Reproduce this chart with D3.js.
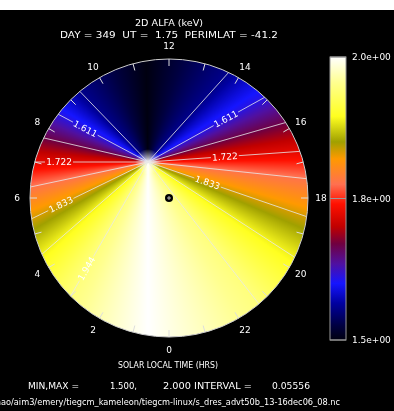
<!DOCTYPE html>
<html>
<head>
<meta charset="utf-8">
<script src="https://cdn.jsdelivr.net/npm/d3@7"></script>
<style>
  body { margin: 0; background: #000; }
  #chart { position: relative; width: 394px; height: 411px; }
  #chart canvas, #chart svg { position: absolute; left: 0; top: 0; display: block; }
  text { font-family: "DejaVu Sans", sans-serif; fill: #fff; white-space: pre; }
</style>
</head>
<body>
<div id="chart"></div>
<script>
// value of the field against direction around the pole (deg, counter-clockwise from +x)
var fieldAngles = [-90, -52, -33, -19, -6, 4, 16, 29, 48, 91, 134, 152, 167, 180, 192, 206, 221, 240, 270];
var fieldValues = [2.0, 1.944, 1.889, 1.833, 1.778, 1.722, 1.667, 1.611, 1.556, 1.5, 1.556, 1.611, 1.667, 1.722, 1.778, 1.833, 1.889, 1.944, 2.0];

var contourLevels = [1.556, 1.611, 1.667, 1.722, 1.778, 1.833, 1.889, 1.944];

// labelled contours: ray angle, distance of label from pole, text
var labelAngles = [152, 180, 206, 240, 29, 4, -19];
var labelDist = [71, 89, 97, 123, 89, 77, 63];
var labelText = ["1.611", "1.722", "1.833", "1.944", "1.611", "1.722", "1.833"];

var hourTicks = d3.range(0, 24);
var hourLabels = [0, 2, 4, 6, 8, 10, 12, 14, 16, 18, 20, 22];

// colour table
var colorValues = [1.5, 1.525, 1.565, 1.60, 1.635, 1.67, 1.70, 1.74, 1.775, 1.82, 1.85, 1.895, 1.955, 2.0];
var colorStops = ["#000010", "#000040", "#0000a0", "#1515ff", "#5010a0", "#700040", "#c00000",
                  "#ff1000", "#ff7050", "#ff9900", "#a0a000", "#ffff20", "#ffff90", "#ffffff"];

var barTicks = [1.5, 1.75, 2.0];
var barTickLabels = ["1.5e+00", "1.8e+00", "2.0e+00"];

var W = 394, H = 411;
var cx = 169, cy = 198, R = 139;       // dial
var px = 148, py = 162;                // pole where contours meet
var rad = Math.PI / 180;

var field = d3.scaleLinear().domain(fieldAngles).range(fieldValues);
var color = d3.scaleLinear().domain(colorValues).range(colorStops).clamp(true);

// filled field on a canvas below the svg
var canvas = d3.select("#chart").append("canvas")
    .attr("width", W).attr("height", H);
var ctx = canvas.node().getContext("2d");

var off = document.createElement("canvas");
off.width = W; off.height = H;
var octx = off.getContext("2d");
var img = octx.createImageData(W, H);
for (var y = cy - R - 1; y <= cy + R + 1; y++) {
  for (var x = cx - R - 1; x <= cx + R + 1; x++) {
    var a = Math.atan2(-(y + 0.5 - py), x + 0.5 - px) / rad;
    if (a < -90) a += 360;
    var c = d3.rgb(color(field(a)));
    var o = (y * W + x) * 4;
    img.data[o] = c.r; img.data[o + 1] = c.g; img.data[o + 2] = c.b; img.data[o + 3] = 255;
  }
}
octx.putImageData(img, 0, 0);
ctx.save();
ctx.beginPath();
ctx.arc(cx, cy, R, 0, 2 * Math.PI);
ctx.clip();
ctx.drawImage(off, 0, 0);
ctx.restore();

var svg = d3.select("#chart").append("svg")
    .attr("width", W)
    .attr("height", H);

svg.append("rect").attr("width", W).attr("height", 10).attr("fill", "#fff");

var defs = svg.append("defs");

var glow = defs.append("radialGradient").attr("id", "glow");
glow.append("stop").attr("offset", 0).attr("stop-color", "#fff").attr("stop-opacity", 1);
glow.append("stop").attr("offset", 0.35).attr("stop-color", "#fff").attr("stop-opacity", 0.6);
glow.append("stop").attr("offset", 1).attr("stop-color", "#fff").attr("stop-opacity", 0);

svg.append("circle")
    .attr("cx", px).attr("cy", py).attr("r", 13)
    .attr("fill", "url(#glow)");

// distance from pole to dial edge along a ray
function edgeDist(a) {
  var dx = Math.cos(a * rad), dy = -Math.sin(a * rad);
  var ox = px - cx, oy = py - cy;
  var b = dx * ox + dy * oy, c = ox * ox + oy * oy - R * R;
  return -b + Math.sqrt(b * b - c);
}

// contour rays
var rays = [];
fieldValues.forEach(function(v, i) {
  contourLevels.forEach(function(l) {
    if (Math.abs(v - l) < 0.002) rays.push(fieldAngles[i]);
  });
});

var cg = svg.append("g");
rays.forEach(function(a) {
  var len = edgeDist(a);
  var dx = Math.cos(a * rad), dy = -Math.sin(a * rad);
  var segs = [[0, len]];
  var k = labelAngles.indexOf(a);
  if (k >= 0) segs = [[0, labelDist[k] - 14], [labelDist[k] + 14, len]];
  segs.forEach(function(s) {
    cg.append("line")
      .attr("x1", px + dx * s[0]).attr("y1", py + dy * s[0])
      .attr("x2", px + dx * s[1]).attr("y2", py + dy * s[1])
      .attr("stroke", "#e8e8e8")
      .attr("stroke-width", 0.8);
  });
});

cg.selectAll(".clab")
    .data(labelText)
  .enter().append("text")
    .attr("class", "clab")
    .attr("transform", function(d, i) {
      var a = labelAngles[i];
      var x = px + Math.cos(a * rad) * labelDist[i];
      var y = py - Math.sin(a * rad) * labelDist[i];
      var phi = -a;
      while (phi > 90) phi -= 180;
      while (phi <= -90) phi += 180;
      return "translate(" + x + "," + y + ") rotate(" + phi + ")";
    })
    .attr("text-anchor", "middle")
    .attr("dy", "0.35em")
    .style("font-size", "9px")
    .style("fill", "#fff")
    .text(function(d) { return d; });

// dial outline, hour ticks and labels
var hourAngle = d3.scaleLinear().domain([0, 24]).range([0, 2 * Math.PI]);

svg.append("circle")
    .attr("cx", cx).attr("cy", cy).attr("r", R)
    .attr("fill", "none")
    .attr("stroke", "#ccc")
    .attr("stroke-width", 1);

svg.selectAll(".htick")
    .data(hourTicks)
  .enter().append("line")
    .attr("class", "htick")
    .attr("x1", function(h) { return cx - (R - 7) * Math.sin(hourAngle(h)); })
    .attr("y1", function(h) { return cy + (R - 7) * Math.cos(hourAngle(h)); })
    .attr("x2", function(h) { return cx - R * Math.sin(hourAngle(h)); })
    .attr("y2", function(h) { return cy + R * Math.cos(hourAngle(h)); })
    .attr("stroke", "#ddd")
    .attr("stroke-width", 1);

svg.selectAll(".hlab")
    .data(hourLabels)
  .enter().append("text")
    .attr("class", "hlab")
    .attr("x", function(h) { return cx - 152 * Math.sin(hourAngle(h)); })
    .attr("y", function(h) { return cy + 152 * Math.cos(hourAngle(h)); })
    .attr("text-anchor", "middle")
    .attr("dy", "0.35em")
    .style("font-size", "9px")
    .text(function(h) { return h; });

// pole marker
svg.append("circle").attr("cx", cx).attr("cy", cy).attr("r", 4).attr("fill", "#000");
svg.append("path")
    .attr("d", "M" + (cx - 2) + "," + cy + "H" + (cx + 2) + "M" + cx + "," + (cy - 2) + "V" + (cy + 2))
    .attr("stroke", "#ddd").attr("stroke-width", 0.8);

// colour bar
var yBar = d3.scaleLinear().domain([1.5, 2.0]).range([340, 57]);
var grad = defs.append("linearGradient").attr("id", "bar")
    .attr("x1", 0).attr("y1", 1).attr("x2", 0).attr("y2", 0);
colorValues.forEach(function(v, i) {
  grad.append("stop").attr("offset", (v - 1.5) / 0.5).attr("stop-color", colorStops[i]);
});
svg.append("rect")
    .attr("x", 330).attr("y", yBar(2.0))
    .attr("width", 16).attr("height", yBar(1.5) - yBar(2.0))
    .attr("fill", "url(#bar)")
    .attr("stroke", "#999")
    .attr("stroke-width", 1);

svg.selectAll(".btick")
    .data(barTicks)
  .enter().append("line")
    .attr("class", "btick")
    .attr("x1", 330).attr("x2", 346)
    .attr("y1", function(d) { return yBar(d); })
    .attr("y2", function(d) { return yBar(d); })
    .attr("stroke", "#999");

svg.selectAll(".blab")
    .data(barTicks)
  .enter().append("text")
    .attr("class", "blab")
    .attr("x", 352)
    .attr("y", function(d) { return yBar(d); })
    .attr("dy", "0.35em")
    .style("font-size", "9px")
    .text(function(d, i) { return barTickLabels[i]; });

// titles and footer
function label(txt, x, y, size, anchor, len) {
  var t = svg.append("text")
    .attr("x", x).attr("y", y)
    .attr("text-anchor", anchor)
    .style("font-size", size + "px")
    .text(txt);
  if (len) t.attr("textLength", len).attr("lengthAdjust", "spacingAndGlyphs");
  return t;
}

label("2D ALFA (keV)", 169, 26, 9.5, "middle", 68);
label("DAY = 349  UT =  1.75  PERIMLAT = -41.2", 60, 38, 9.5, "start", 218);
label("SOLAR LOCAL TIME (HRS)", 168, 368, 8.5, "middle", 100);
label("MIN,MAX =", 28, 389, 9.5, "start", 51);
label("1.500,", 110, 389, 9.5, "start", 27);
label("2.000 INTERVAL =", 163, 389, 9.5, "start", 89);
label("0.05556", 272, 389, 9.5, "start", 38);
label("/hao/aim3/emery/tiegcm_kameleon/tiegcm-linux/s_dres_advt50b_13-16dec06_08.nc", -7, 405, 8, "start", 347);
</script>
</body>
</html>
